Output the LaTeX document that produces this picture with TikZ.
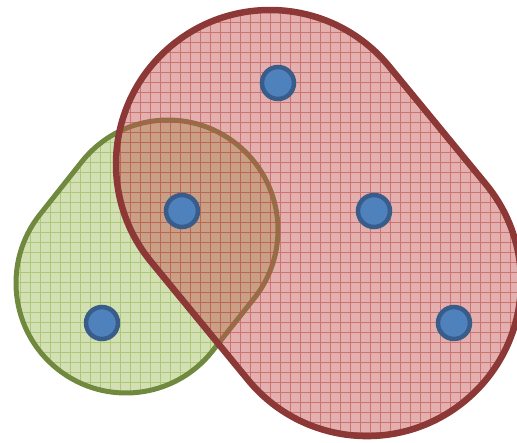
\documentclass[tikz,border=0pt]{standalone}
\usepackage{tikz}
\usetikzlibrary{calc}
\usepackage{xcolor}
\definecolor{redfill}{HTML}{C0504D}
\definecolor{redline}{HTML}{8C3836}
\definecolor{greenfill}{HTML}{9BBB59}
\definecolor{greenline}{HTML}{71893F}
\definecolor{dotfill}{HTML}{4F81BD}
\definecolor{dotline}{HTML}{385D8A}
\tikzset{
  gridfill/.style={path picture={
      \draw[#1, draw opacity=0.65, line width=0.7pt, step=10pt]
        (path picture bounding box.south west) grid (path picture bounding box.north east);}},
  greenblob/.style={fill=greenfill, fill opacity=0.45, draw=greenline, line width=5pt, gridfill=greenfill},
  redblob/.style={fill=redfill, fill opacity=0.45, draw=redline, line width=6.5pt, gridfill=redfill},
  pointdot/.style={circle, fill=dotfill, draw=dotline, line width=4.5pt, minimum size=32pt, inner sep=0pt}
}

\begin{document}
\begin{tikzpicture}[x=1pt, y=1pt]
  \clip (0,0) rectangle (517,442);
  % green capsule (lower left)
  \coordinate (g1) at (126,159);
  \def\gang{51.6}
  \draw[greenblob] (g1) ++(\gang+90:110) arc[start angle=\gang+90, end angle=\gang+270, radius=110]
    -- ++(\gang:67.6) arc[start angle=\gang-90, end angle=\gang+90, radius=110] -- cycle;
  % red capsule (top to lower right)
  \coordinate (r1) at (270,278);
  \def\rang{-50.6}
  \draw[redblob] (r1) ++(\rang+90:154) arc[start angle=\rang+90, end angle=\rang+270, radius=154]
    -- ++(\rang:152.8) arc[start angle=\rang-90, end angle=\rang+90, radius=154] -- cycle;
  % points
  \node[pointdot] (top) at (278,359) {};
  \node[pointdot] (midl) at (182,231) {};
  \node[pointdot] (midr) at (374,231) {};
  \node[pointdot] (lowl) at (102,119) {};
  \node[pointdot] (lowr) at (454,119) {};
\end{tikzpicture}
\end{document}
